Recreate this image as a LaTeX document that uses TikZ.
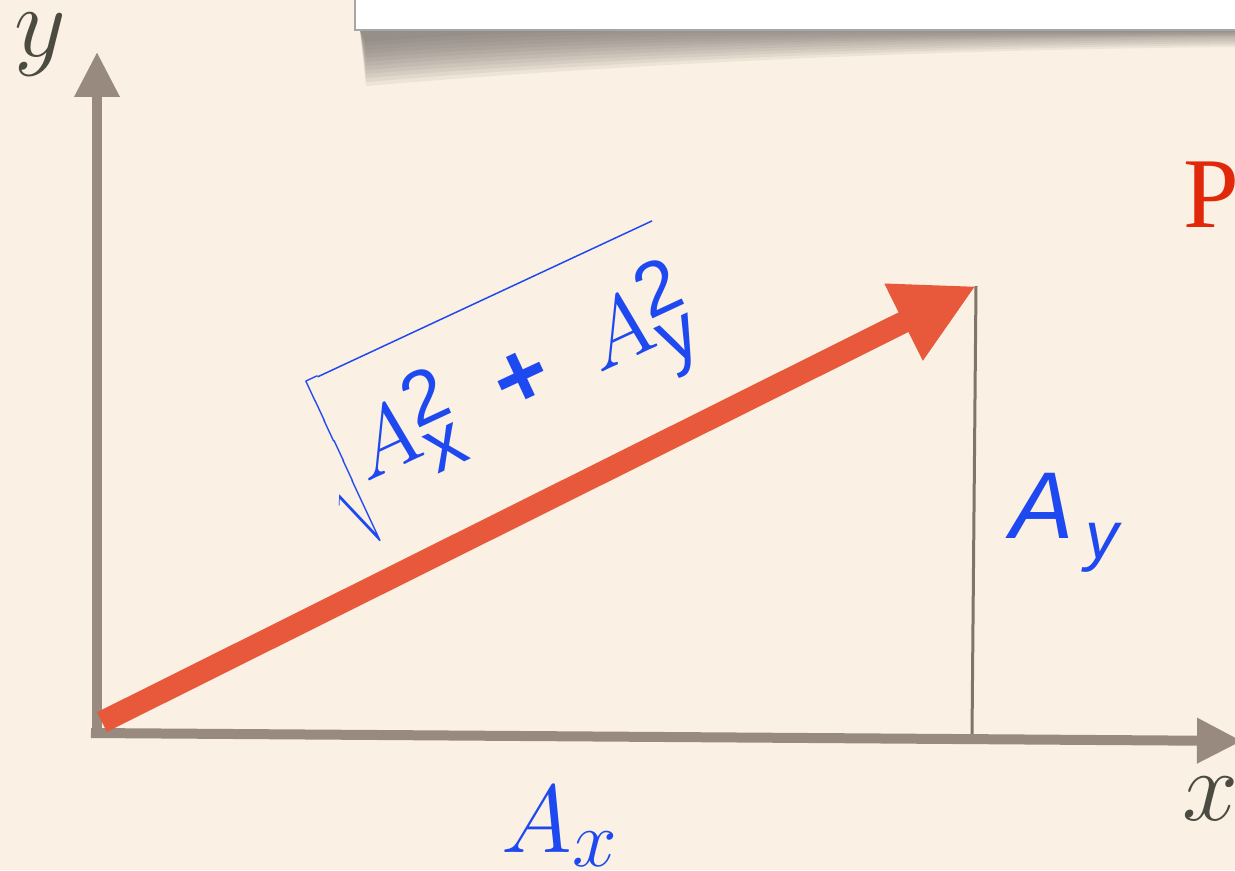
\documentclass[tikz,border=0pt]{standalone}
\usepackage{fontspec}
\setsansfont{Liberation Sans}
\newfontfamily\titlefont{Liberation Serif}
\usetikzlibrary{arrows.meta}

\definecolor{paper}{RGB}{250,240,227}
\definecolor{axisgray}{RGB}{152,138,126}
\definecolor{vecred}{RGB}{232,88,58}
\definecolor{labelblue}{RGB}{30,72,240}
\definecolor{labeldark}{RGB}{75,75,65}
\definecolor{titlered}{RGB}{225,40,10}
\definecolor{shadowgray}{RGB}{105,100,94}

\newcommand{\bigmath}[2]{\scalebox{#1}{\fontsize{24.88}{28}\selectfont$#2$}}

\tikzset{
  axis/.style={draw=axisgray, line width=0.2cm, -{Triangle[length=0.9cm,width=0.86cm]}},
  vector/.style={draw=vecred, line width=0.44cm, -{Triangle[length=1.62cm,width=1.6cm]}},
  component/.style={draw=axisgray!85!black, line width=0.06cm},
  axislabel/.style={text=labeldark, inner sep=0pt},
  bluelabel/.style={text=labelblue, inner sep=0pt}
}

\begin{document}
\begin{tikzpicture}[x=0.02cm,y=-0.02cm]
\useasboundingbox (0,0) rectangle (1235,870);
\fill[paper] (0,0) rectangle (1235,870);

\foreach \low/\right in {86/47,82/45,78/43,74/41,70/39,66/37,62/36,58/35,54/34,50/33,46/32,42/31}
{
\fill[shadowgray, opacity=0.085] (360,30) -- (1235,30) -- (1235,\right)
  .. controls (900,\right+3) and (600,\low-20) .. (366,\low) -- cycle;
}
\fill[white] (355,-5) rectangle (1240,30);
\draw[gray!70, line width=0.03cm] (355,-5) -- (355,30) -- (1240,30);

\coordinate (O) at (97,733);
\coordinate (ytip) at (97,52);
\coordinate (xtip) at (1242,741);
\coordinate (start) at (102,722);
\coordinate (tip) at (976,286);
\coordinate (foot) at (972,736);

\draw[component] (tip) -- (foot);
\draw[axis] (O) -- (ytip);
\draw[axis] (91,733) -- (xtip);
\draw[vector] (start) -- (tip);

\node[axislabel, anchor=base] (ylab) at (40,56) {\bigmath{2.3}{y}};
\node[axislabel, anchor=base] (xlab) at (1210,820) {\bigmath{2.3}{x}};
\node[bluelabel, anchor=base] (Ax) at (560,852) {\bigmath{2.2}{A_x}};
\node[bluelabel, anchor=base west, font=\fontsize{54}{60}\selectfont\sffamily\itshape] (Ay) at (1010,538)
  {A\kern0.12em\raisebox{-0.22em}{\fontsize{38}{40}\selectfont y}};
\node[bluelabel, rotate=25] (len) at (504,386)
  {\bigmath{2.1}{\sqrt{\rule[-0.62em]{0pt}{1.82em}A^{\mathsf{2}}_{\mathsf{x}}\;\mathbin{\textsf{\bfseries+}}\;A^{\mathsf{2}}_{\mathsf{y}}}}};
\node[anchor=base west, inner sep=0pt, text=titlered, font=\fontsize{57}{60}\titlefont] (title) at (1183,227) {P};
\end{tikzpicture}
\end{document}
